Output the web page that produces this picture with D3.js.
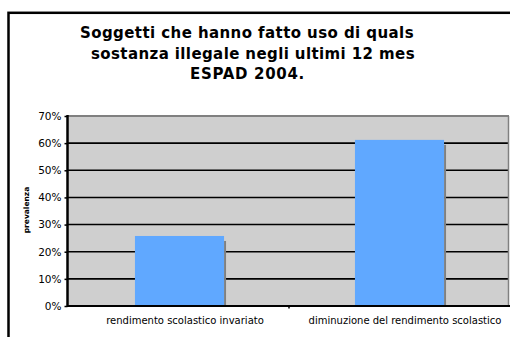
<!DOCTYPE html>
<html><head><meta charset="utf-8">
<script src="https://cdn.jsdelivr.net/npm/d3@7"></script>
<style>body{margin:0;background:#fff}svg{display:block}</style>
</head><body>
<svg id="c" width="510" height="337"></svg>
<script>
const categories = ["rendimento scolastico invariato", "diminuzione del rendimento scolastico"];
const values = [0.258, 0.612];
const yTicks = [0, 0.1, 0.2, 0.3, 0.4, 0.5, 0.6, 0.7];
const titleLines = ["Soggetti che hanno fatto uso di quals", "sostanza illegale negli ultimi 12 mes", "ESPAD 2004."];
const yLabel = "prevalenza";

const svg = d3.select("#c");
const font = "DejaVu Sans, Verdana, sans-serif";

// outer frame
svg.append("rect").attr("x", 8.5).attr("y", 12.8).attr("width", 520).attr("height", 340)
  .attr("fill", "none").attr("stroke", "#000").attr("stroke-width", 2.5);

const L = 68, R = 508, T = 116, B = 306;
const x = d3.scaleBand().domain(categories).range([L, R]).paddingInner(0).paddingOuter(0);
const y = d3.scaleLinear().domain([0, 0.7]).range([B, T]);

// plot bg
svg.append("rect").attr("x", L).attr("y", T).attr("width", R - L).attr("height", B - T).attr("fill", "#cfcfcf");

// gridlines
svg.append("g").selectAll("line").data(yTicks.filter(d => d > 0 && d < 0.7)).join("line")
  .attr("x1", L).attr("x2", R).attr("y1", d => y(d)).attr("y2", d => y(d))
  .attr("stroke", "#000").attr("stroke-width", 1.6);

// plot border top/right gray
svg.append("line").attr("x1", L).attr("x2", R + 1).attr("y1", T).attr("y2", T).attr("stroke", "#808080").attr("stroke-width", 2);
svg.append("line").attr("x1", R + 0.5).attr("x2", R + 0.5).attr("y1", T).attr("y2", B).attr("stroke", "#808080").attr("stroke-width", 1.5);

const bw = x.bandwidth() * 0.405;
const bx = d => x(d) + x.bandwidth() / 2 - bw / 2 + 1.5;

// shadows
svg.append("g").selectAll("rect").data(categories).join("rect")
  .attr("x", d => bx(d) + bw).attr("width", 2)
  .attr("y", (d, i) => y(values[i]) + 5).attr("height", (d, i) => B - y(values[i]) - 5)
  .attr("fill", "#808080");
// bars
svg.append("g").selectAll("rect").data(categories).join("rect")
  .attr("x", d => bx(d)).attr("width", bw)
  .attr("y", (d, i) => y(values[i])).attr("height", (d, i) => B - y(values[i]))
  .attr("fill", "#60a8ff");

// y axis
const ya = svg.append("g").attr("transform", `translate(${L - 0.5},0)`)
  .call(d3.axisLeft(y).tickValues(yTicks).tickFormat(d3.format(".0%")).tickSize(3).tickPadding(3));
ya.select(".domain").remove();
ya.selectAll("line").attr("stroke", "#000").attr("stroke-width", 1.5);
ya.selectAll("text").attr("font-family", font).attr("font-size", 10.5).attr("fill", "#000");
svg.append("line").attr("x1", L - 0.5).attr("x2", L - 0.5).attr("y1", T - 1).attr("y2", B + 1)
  .attr("stroke", "#000").attr("stroke-width", 2.5);

// x axis
svg.append("line").attr("x1", L - 1).attr("x2", 510).attr("y1", B).attr("y2", B)
  .attr("stroke", "#000").attr("stroke-width", 2);
const xa = svg.append("g").attr("transform", `translate(0,${B})`)
  .call(d3.axisBottom(x).tickSize(0).tickPadding(0));
xa.select(".domain").remove();
xa.selectAll("text").attr("font-family", font).attr("font-size", 10).attr("fill", "#000")
  .attr("dy", null).attr("y", 18).attr("dx", 7);
// category divider tick
svg.append("line").attr("x1", x(categories[1]) + 1).attr("x2", x(categories[1]) + 1)
  .attr("y1", B).attr("y2", B + 2.5).attr("stroke", "#000").attr("stroke-width", 1.5);

// y label
svg.append("text").attr("transform", "translate(29,210) rotate(-90)")
  .attr("text-anchor", "middle").attr("font-family", font).attr("font-weight", "bold")
  .attr("font-size", 7.5).text(yLabel);

// title
const titleBase = [38, 58.5, 79];
const titleX = [247, 253, 247.5];
const titleW = [334, 324, 115];
svg.append("g").selectAll("text").data(titleLines).join("text")
  .attr("x", (d, i) => titleX[i]).attr("y", (d, i) => titleBase[i])
  .attr("text-anchor", "middle").attr("font-family", font).attr("font-weight", "bold")
  .attr("font-size", 15).attr("fill", "#000").text(d => d)
  .each(function (d, i) {
    const w = this.getComputedTextLength();
    const ls = (titleW[i] - w) / d.length;
    d3.select(this).attr("letter-spacing", ls);
  });
</script>
</body></html>
